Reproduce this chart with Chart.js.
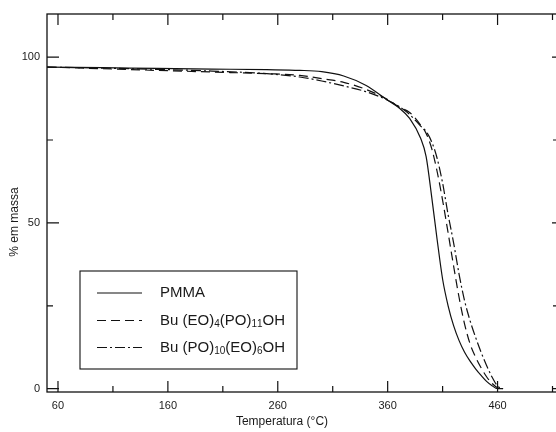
<!DOCTYPE html>
<html>
<head>
<meta charset="utf-8">
<script src="https://cdn.jsdelivr.net/npm/chart.js@4.4.1/dist/chart.umd.min.js"></script>
<style>
  html, body { margin: 0; padding: 0; background: #fff; overflow: hidden; }
  #wrap { width: 556px; height: 432px; overflow: hidden; }
</style>
</head>
<body>
<div id="wrap"><canvas id="tga" width="580" height="432"></canvas></div>
<script>
// --- dados ---
const temps = [50, 100, 150, 200, 250, 280, 300, 320, 340, 360, 370, 380, 390, 395, 400, 405, 410, 415, 420, 425, 430, 435, 440, 445, 450, 455, 460, 465];
const pmma   = [97, 96.8, 96.6, 96.4, 96.2, 96, 95.6, 94.3, 91.5, 87, 84.8, 81.5, 75.5, 70, 58, 45, 33, 25, 19, 14.5, 11, 8.3, 6, 4, 2.2, 0.9, 0, 0];
const eo4po11 = [97, 96.5, 96, 95.5, 95, 94.5, 93.5, 92.4, 90.3, 87.2, 85, 83.3, 79.5, 77, 72.5, 65.5, 56.8, 47, 37, 27.5, 19.5, 13.5, 9.5, 6.3, 3.6, 1.6, 0.3, 0];
const po10eo6 = [97, 96.7, 96.3, 95.8, 95, 94, 92.8, 91.3, 89.6, 87, 85.2, 82.7, 79.2, 77.6, 74.5, 69.5, 62, 52.5, 44, 34.5, 26.5, 20.5, 15.5, 11, 7, 3.5, 0.8, 0];

const seriesLabels = ['PMMA', 'Bu (EO)₄(PO)₁₁OH', 'Bu (PO)₁₀(EO)₆OH'];
const xMajor = [60, 160, 260, 360, 460];
const xMinor = [110, 210, 310, 410, 510];
const yMajor = [0, 50, 100];
const yMinor = [25, 75];

const FONT = '"Liberation Sans", Arial, Helvetica, sans-serif';
const INK = '#111';

const toPts = vals => vals.map((v, i) => ({ x: temps[i], y: v }));

// --- moldura, marcas internas, títulos e legenda ---
const framePlugin = {
  id: 'frame',
  afterDraw(chart) {
    const { ctx, chartArea: a, scales: { x, y } } = chart;
    ctx.save();
    ctx.strokeStyle = INK;
    ctx.lineWidth = 1.3;
    ctx.strokeRect(a.left, a.top, a.right - a.left, a.bottom - a.top);

    ctx.lineWidth = 1.2;
    ctx.beginPath();
    xMajor.forEach(v => {
      const px = x.getPixelForValue(v);
      ctx.moveTo(px, a.bottom); ctx.lineTo(px, a.bottom - 11);
      ctx.moveTo(px, a.top); ctx.lineTo(px, a.top + 11);
    });
    xMinor.forEach(v => {
      const px = x.getPixelForValue(v);
      ctx.moveTo(px, a.bottom); ctx.lineTo(px, a.bottom - 6);
      ctx.moveTo(px, a.top); ctx.lineTo(px, a.top + 6);
    });
    yMajor.forEach(v => {
      const py = y.getPixelForValue(v);
      ctx.moveTo(a.left, py); ctx.lineTo(a.left + 12, py);
      ctx.moveTo(a.right, py); ctx.lineTo(a.right - 6, py);
    });
    yMinor.forEach(v => {
      const py = y.getPixelForValue(v);
      ctx.moveTo(a.left, py); ctx.lineTo(a.left + 6, py);
      ctx.moveTo(a.right, py); ctx.lineTo(a.right - 5, py);
    });
    ctx.stroke();

    // títulos dos eixos
    ctx.fillStyle = '#1a1a1a';
    ctx.font = '12px ' + FONT;
    ctx.textAlign = 'center';
    ctx.textBaseline = 'middle';
    ctx.fillText('Temperatura (°C)', 282, 422);
    ctx.save();
    ctx.translate(15, 222);
    ctx.rotate(-Math.PI / 2);
    ctx.fillText('% em massa', 0, 0);
    ctx.restore();

    // legenda
    const box = { l: 80, t: 271, r: 297, b: 369 };
    ctx.fillStyle = '#fff';
    ctx.fillRect(box.l, box.t, box.r - box.l, box.b - box.t);
    ctx.lineWidth = 1.1;
    ctx.strokeRect(box.l, box.t, box.r - box.l, box.b - box.t);
    const rows = [293, 320.5, 347.5];
    chart.data.datasets.forEach((ds, i) => {
      const ry = rows[i];
      ctx.setLineDash(ds.borderDash || []);
      ctx.lineWidth = ds.borderWidth;
      ctx.beginPath();
      ctx.moveTo(97, ry); ctx.lineTo(142, ry);
      ctx.stroke();
      ctx.setLineDash([]);
      drawSubText(ctx, ds.label, 160, ry);
    });
    ctx.restore();
  }
};

// texto com índices (subscritos unicode -> dígitos menores e rebaixados)
function drawSubText(ctx, text, x0, yMid) {
  const subs = '₀₁₂₃₄₅₆₇₈₉';
  ctx.textAlign = 'left';
  ctx.textBaseline = 'middle';
  ctx.fillStyle = '#1a1a1a';
  let cx = x0;
  for (const ch of text) {
    const k = subs.indexOf(ch);
    if (k >= 0) {
      ctx.font = '10px ' + FONT;
      ctx.fillText(String(k), cx, yMid + 4);
      cx += ctx.measureText(String(k)).width;
    } else {
      ctx.font = '15px ' + FONT;
      ctx.fillText(ch, cx, yMid);
      cx += ctx.measureText(ch).width;
    }
  }
}

const lineStyle = { borderColor: INK, borderWidth: 1.2, pointRadius: 0, fill: false, cubicInterpolationMode: 'monotone' };

new Chart(document.getElementById('tga'), {
  type: 'line',
  data: {
    datasets: [
      { ...lineStyle, label: seriesLabels[0], data: toPts(pmma) },
      { ...lineStyle, label: seriesLabels[1], data: toPts(eo4po11), borderDash: [9, 5] },
      { ...lineStyle, label: seriesLabels[2], data: toPts(po10eo6), borderDash: [10, 3, 2, 3] }
    ]
  },
  options: {
    responsive: false,
    animation: false,
    layout: { padding: { top: 14, right: 22, left: 0, bottom: 0 } },
    plugins: { legend: { display: false }, tooltip: { enabled: false } },
    scales: {
      x: {
        type: 'linear', min: 50, max: 515,
        grid: { display: false, drawTicks: false },
        border: { display: false },
        afterBuildTicks: s => { s.ticks = xMajor.map(v => ({ value: v })); },
        afterFit: s => { s.height = 40; },
        ticks: { color: '#1a1a1a', font: { size: 11, family: FONT }, padding: 7, maxRotation: 0 }
      },
      y: {
        type: 'linear', min: -1, max: 113,
        grid: { display: false, drawTicks: false },
        border: { display: false },
        afterBuildTicks: s => { s.ticks = yMajor.map(v => ({ value: v })); },
        afterFit: s => { s.width = 47; },
        ticks: { color: '#1a1a1a', font: { size: 11, family: FONT }, padding: 7 }
      }
    }
  },
  plugins: [framePlugin]
});
</script>
</body>
</html>
